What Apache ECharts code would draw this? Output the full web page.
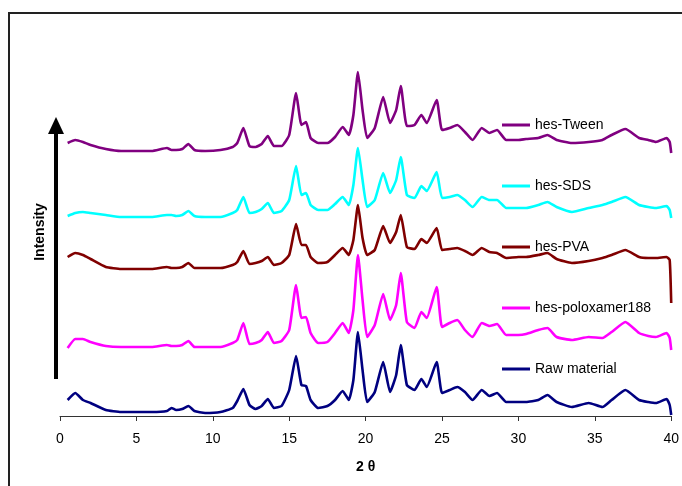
<!DOCTYPE html>
<html>
<head>
<meta charset="utf-8">
<script src="https://cdn.jsdelivr.net/npm/echarts@6/dist/echarts.min.js"></script>
<style>
html,body{margin:0;padding:0;background:#fff;}
#chart{width:682px;height:486px;}
</style>
</head>
<body>
<div id="chart"></div>
<script>
// 2θ positions (degrees)
var twoTheta = [0.5,1.0,1.5,2.0,3.0,4.0,5.0,6.0,7.0,7.3,7.6,8.0,8.4,8.8,9.5,10.5,11.3,11.6,12.0,12.4,12.8,13.2,13.6,14.0,14.5,15.0,15.45,15.8,16.1,16.4,16.9,17.5,18.0,18.5,18.9,19.2,19.5,19.8,20.1,20.6,21.15,21.6,22.0,22.3,22.7,23.2,23.65,24.0,24.65,25.0,25.5,26.0,26.5,27.0,27.6,28.1,28.6,29.2,30.0,30.5,31.3,31.9,32.5,33.5,34.6,35.5,36.1,37.0,37.9,38.5,39.0,39.7,39.9,40.0];

// Intensities (arbitrary units, stacked offsets as drawn)
var rawMaterial = [16,23,16,13,6,4,4,4,5,8,6,7,10,5,3,4,8,15,27,11,7,10,17,8,10,26,60,31,30,16,8,10,16,25,16,36,84,46,14,24,54,24,41,71,31,26,37,29,54,23,26,29,24,16,26,20,23,14,14,14,16,21,14,9,13,9,16,26,16,14,13,17,11,1];
var hesPoloxamer = [68,77,77,74,70,69,69,69,71,70,70,71,75,69,69,69,73,76,93,72,73,76,84,73,75,86,131,98,99,83,73,74,83,93,83,106,161,116,79,91,122,96,111,143,94,88,104,98,129,89,93,96,86,79,93,90,92,81,81,82,86,88,79,76,79,78,84,94,83,80,79,83,78,66];
var hesPVA = [159,163,161,157,149,147,147,147,149,148,148,149,153,148,148,148,151,154,165,152,153,155,159,151,153,161,192,171,171,159,153,154,161,168,161,176,211,178,161,166,190,173,184,201,169,167,177,173,188,166,167,168,165,161,168,164,163,158,159,159,161,163,157,153,155,158,161,166,159,158,158,159,156,113];
var hesSDS = [200,203,204,203,201,199,199,199,201,201,200,201,205,200,199,199,203,206,219,203,204,207,213,203,205,216,250,221,223,211,206,206,212,219,211,231,268,236,209,216,243,223,236,259,221,218,230,225,244,218,219,221,216,209,219,216,216,208,208,208,211,214,209,204,208,211,214,219,211,209,208,210,206,198];
var hesTween = [273,276,274,271,267,265,265,265,268,266,266,267,272,266,265,266,269,273,288,270,269,272,280,270,270,281,323,291,294,278,273,273,279,289,281,301,344,306,278,288,319,293,306,330,290,291,301,293,316,286,288,291,284,276,288,283,286,276,276,277,278,281,276,273,274,276,281,287,278,276,274,278,274,263];

var seriesNames = ['Raw material','hes-poloxamer188','hes-PVA','hes-SDS','hes-Tween'];
var seriesData = [rawMaterial, hesPoloxamer, hesPVA, hesSDS, hesTween];
var seriesColors = ['#000080','#FF00FF','#800000','#00FFFF','#800080'];
var legendOrder = ['hes-Tween','hes-SDS','hes-PVA','hes-poloxamer188','Raw material'];
var xTicks = {min:0, max:40, interval:5};

var font = '"Liberation Sans", Arial, sans-serif';

function pairs(ys){
  return twoTheta.map(function(x,i){ return [x, ys[i]]; });
}

var series = seriesNames.map(function(n,i){
  return {
    name: n,
    type: 'line',
    data: pairs(seriesData[i]),
    showSymbol: false,
    symbol: 'none',
    smooth: 0.15,
    lineStyle: {color: seriesColors[i], width: 2.6},
    itemStyle: {color: seriesColors[i]},
    animation: false
  };
});

var chart = echarts.init(document.getElementById('chart'), null, {renderer:'canvas'});
chart.setOption({
  backgroundColor: '#ffffff',
  animation: false,
  grid: {left: 60, right: 10, top: 12, bottom: 70},
  xAxis: {
    type: 'value',
    min: xTicks.min, max: xTicks.max, interval: xTicks.interval,
    name: '2 θ',
    nameLocation: 'middle',
    nameGap: 44,
    nameTextStyle: {fontFamily: font, fontSize: 14, fontWeight: 'bold', color: '#000'},
    axisLine: {lineStyle: {color: '#333', width: 1}},
    axisTick: {show: true, inside: false, length: 5, lineStyle: {color: '#333'}},
    axisLabel: {fontFamily: font, fontSize: 14, color: '#000', margin: 16},
    splitLine: {show: false}
  },
  yAxis: {
    type: 'value', min: 0, max: 404, show: false,
    splitLine: {show: false}
  },
  legend: {
    orient: 'vertical',
    left: 497,
    top: 113,
    itemGap: 47,
    itemWidth: 28,
    itemHeight: 3,
    icon: 'rect',
    data: legendOrder,
    textStyle: {fontFamily: font, fontSize: 14, color: '#000', lineHeight: 14},
    selectedMode: false
  },
  graphic: [
    {type:'rect', shape:{x:9, y:13, width:720, height:520}, style:{fill:'none', stroke:'#222', lineWidth:2}, silent:true},
    {type:'rect', shape:{x:54, y:131, width:4, height:248}, style:{fill:'#000'}, silent:true},
    {type:'polygon', shape:{points:[[48,134],[64,134],[56,117]]}, style:{fill:'#000'}, silent:true},
    {type:'text', x:40, y:232, rotation: Math.PI/2,
      style:{text:'Intensity', font:'bold 14px "Liberation Sans", Arial, sans-serif', fill:'#000', align:'center', verticalAlign:'middle'}, silent:true}
  ],
  series: series
});
</script>
</body>
</html>
